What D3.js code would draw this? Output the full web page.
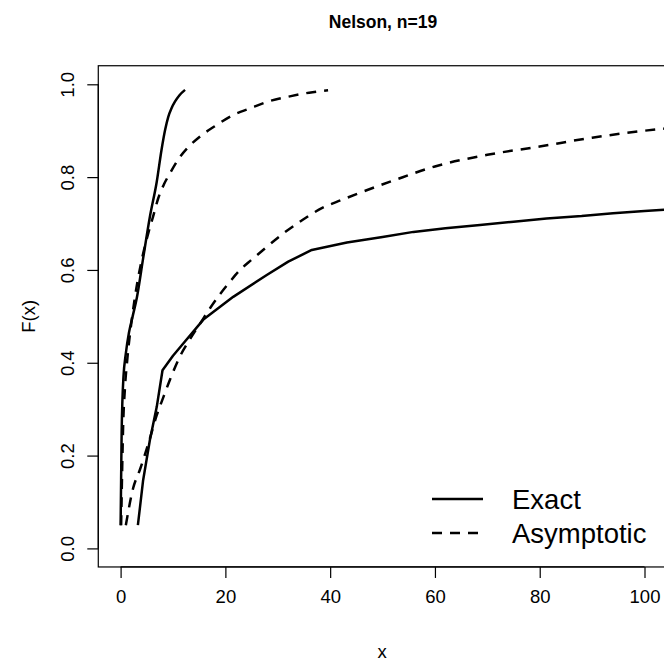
<!DOCTYPE html>
<html>
<head>
<meta charset="utf-8">
<script src="https://cdn.jsdelivr.net/npm/d3@7"></script>
<style>
  html, body { margin: 0; padding: 0; background: #fff; }
  svg { display: block; }
  text { font-family: "Liberation Sans", Arial, Helvetica, sans-serif; fill: #000; }
</style>
</head>
<body>
<svg id="chart" width="664" height="662"></svg>
<script>
// ---- data ----
const titleText = "Nelson, n=19";
const xLabel = "x";
const yLabel = "F(x)";
const xTicks = [0, 20, 40, 60, 80, 100];
const yTicks = [0, 0.2, 0.4, 0.6, 0.8, 1.0];
const seriesNames = ["Exact", "Asymptotic"];

const exactLeftX = [0, 0.1, 0.2, 0.35, 0.55, 1.0, 1.6, 2.3, 3.1, 4.3, 5.6, 6.9, 7.8, 8.5, 9.1, 9.7, 10.4, 11.2, 12.3];
const exactLeftY = [0.05, 0.15, 0.25, 0.32, 0.37, 0.42, 0.465, 0.50, 0.54, 0.625, 0.715, 0.79, 0.858, 0.902, 0.93, 0.948, 0.963, 0.976, 0.988];

const asymLeftX = [0.1, 0.3, 0.5, 0.8, 1.3, 2.1, 3.0, 4.1, 5.3, 6.2, 7.2, 8.3, 9.4, 11.3, 13.2, 15.2, 18.3, 21.5, 24.7, 28.2, 32.3, 36.0, 39.6];
const asymLeftY = [0.05, 0.17, 0.27, 0.34, 0.41, 0.49, 0.56, 0.625, 0.68, 0.715, 0.755, 0.785, 0.808, 0.843, 0.868, 0.888, 0.912, 0.934, 0.948, 0.963, 0.974, 0.982, 0.987];

const exactRightX = [3.3, 4.3, 5.6, 6.9, 8.0, 10.0, 12.0, 15.8, 21.5, 27.9, 32.0, 36.5, 43.2, 50, 55.9, 62, 68.6, 75, 81.3, 88, 94.0, 100, 106];
const exactRightY = [0.05, 0.147, 0.234, 0.305, 0.384, 0.415, 0.442, 0.493, 0.542, 0.589, 0.618, 0.643, 0.659, 0.671, 0.682, 0.690, 0.697, 0.704, 0.711, 0.716, 0.722, 0.727, 0.731];

const asymRightX = [1.0, 2.4, 3.7, 5.3, 6.9, 8.2, 9.4, 11.3, 13.2, 15.2, 17.1, 19.0, 20.9, 22.8, 25, 27.2, 31.1, 34.5, 38.4, 42, 45.4, 52.4, 60, 70, 80, 90, 100, 106];
const asymRightY = [0.05, 0.13, 0.17, 0.226, 0.287, 0.327, 0.363, 0.413, 0.45, 0.485, 0.518, 0.548, 0.575, 0.60, 0.622, 0.643, 0.679, 0.706, 0.733, 0.75, 0.765, 0.794, 0.823, 0.848, 0.866, 0.885, 0.90, 0.907];

// ---- layout ----
const svg = d3.select("#chart");
const x = d3.scaleLinear().domain([0, 100]).range([120.6, 644.5]);
const y = d3.scaleLinear().domain([0, 1]).range([548.4, 84.3]);

const boxLeft = x(-4.26), boxRight = x(110.8), boxTop = y(1.04), boxBottom = y(-0.04);

const zip = (xs, ys) => xs.map((v, i) => [v, ys[i]]);
const line = d3.line().x(d => x(d[0])).y(d => y(d[1]));
const smooth = d3.line().x(d => x(d[0])).y(d => y(d[1])).curve(d3.curveMonotoneX);

svg.append("clipPath").attr("id", "clip")
  .append("rect").attr("x", boxLeft).attr("y", boxTop)
  .attr("width", boxRight - boxLeft).attr("height", boxBottom - boxTop);

// box
svg.append("rect")
  .attr("x", boxLeft).attr("y", boxTop)
  .attr("width", boxRight - boxLeft).attr("height", boxBottom - boxTop)
  .attr("fill", "none").attr("stroke", "#000").attr("stroke-width", 1.2);

// axes
const xAxis = d3.axisBottom(x).tickValues(xTicks).tickSize(11).tickPadding(12).tickFormat(d3.format("d"));
const gx = svg.append("g").attr("transform", `translate(0,${boxBottom})`).call(xAxis);
gx.select(".domain").attr("d", `M${x(xTicks[0])},0H${x(xTicks[xTicks.length-1])}`).attr("stroke-width", 1.2);
gx.selectAll(".tick line").attr("stroke-width", 1.2);
gx.selectAll(".tick text").attr("font-size", 18.5).attr("font-family", "Liberation Sans, Arial, sans-serif");

const yAxis = d3.axisLeft(y).tickValues(yTicks).tickSize(11).tickPadding(0).tickFormat(d3.format(".1f"));
const gy = svg.append("g").attr("transform", `translate(${boxLeft},0)`).call(yAxis);
gy.select(".domain").attr("d", `M0,${y(yTicks[0])}V${y(yTicks[yTicks.length-1])}`).attr("stroke-width", 1.2);
gy.selectAll(".tick line").attr("stroke-width", 1.2);
gy.selectAll(".tick text")
  .attr("font-size", 18.5).attr("font-family", "Liberation Sans, Arial, sans-serif")
  .attr("text-anchor", "middle").attr("x", null).attr("dy", null)
  .attr("transform", `translate(${68 - boxLeft},0) rotate(-90)`)
  .attr("y", 0).attr("dy", "0.35em");

// curves
const curves = svg.append("g").attr("clip-path", "url(#clip)");
const lineStyle = sel => sel.attr("fill", "none").attr("stroke", "#000").attr("stroke-width", 2.5).attr("stroke-linejoin", "round");
curves.append("path").datum(zip(asymLeftX, asymLeftY)).attr("d", smooth).call(lineStyle).attr("stroke-dasharray", "10,8");
curves.append("path").datum(zip(asymRightX, asymRightY)).attr("d", smooth).call(lineStyle).attr("stroke-dasharray", "10,8");
curves.append("path").datum(zip(exactLeftX, exactLeftY)).attr("d", smooth).call(lineStyle);
curves.append("path").datum(zip(exactRightX, exactRightY)).attr("d", line).call(lineStyle);

// title and labels
svg.append("text").attr("x", 383).attr("y", 22).attr("dy", "0.35em")
  .attr("text-anchor", "middle").attr("font-weight", "bold").attr("font-size", 17.5).text(titleText);
svg.append("text").attr("x", 382).attr("y", 652).attr("dy", "0.35em")
  .attr("text-anchor", "middle").attr("font-size", 18.5).text(xLabel);
svg.append("text").attr("transform", `translate(29,${(boxTop + boxBottom) / 2}) rotate(-90)`)
  .attr("dy", "0.35em").attr("text-anchor", "middle").attr("font-size", 18.5).text(yLabel);

// legend
const legend = svg.append("g");
const legY = [499, 533];
seriesNames.forEach((name, i) => {
  const ln = legend.append("line").attr("x1", 432).attr("x2", 483).attr("y1", legY[i]).attr("y2", legY[i])
    .attr("stroke", "#000").attr("stroke-width", 2.5);
  if (i === 1) ln.attr("stroke-dasharray", "10,8");
  legend.append("text").attr("x", 512).attr("y", legY[i]).attr("dy", "0.35em")
    .attr("font-size", 27.5).text(name);
});
</script>
</body>
</html>
